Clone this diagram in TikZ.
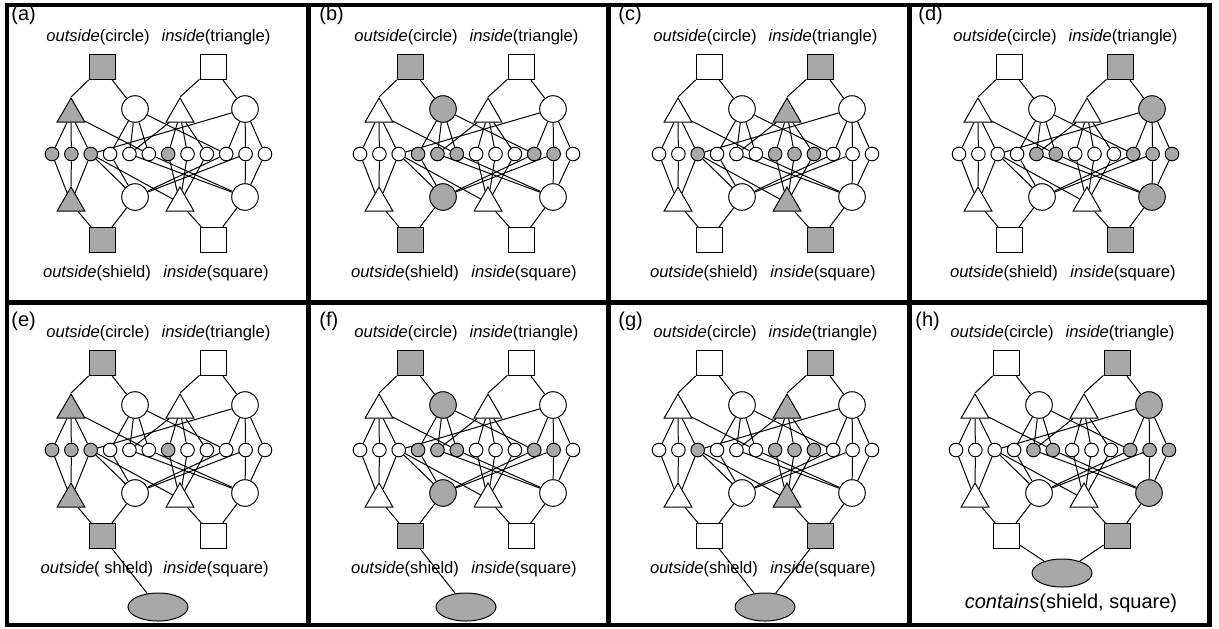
\documentclass[tikz,border=0pt]{standalone}
\usepackage{fontspec}
\setmainfont{Liberation Sans}
\usetikzlibrary{shapes.geometric,backgrounds}
\definecolor{gcol}{gray}{0.66}
\tikzset{
  x=0.5pt, y=-0.5pt,
  sq/.style={draw, line width=0.5pt, minimum width=13pt, minimum height=12.5pt, inner sep=0pt, fill=white},
  bc/.style={draw, line width=0.5pt, circle, minimum size=13.3pt, inner sep=0pt, fill=white},
  tri/.style={draw, line width=0.5pt, regular polygon, regular polygon sides=3, minimum size=16pt, inner sep=0pt, fill=white},
  sm/.style={draw, line width=0.5pt, circle, minimum size=6.8pt, inner sep=0pt, fill=white},
  ell/.style={draw, line width=0.5pt, ellipse, minimum width=30pt, minimum height=14pt, inner sep=0pt, fill=gcol},
  lbl/.style={font=\fontsize{8.3}{10}\selectfont, inner sep=0pt},
  plbl/.style={font=\fontsize{10}{12}\selectfont, inner sep=0pt, anchor=west},
  big/.style={font=\fontsize{10}{12}\selectfont, inner sep=0pt},
  edge/.style={line width=0.5pt},
  frame/.style={line width=2.2pt},
}
\newcommand\panelbody{%
  \node[sq,gS1/.try] (S1) at (102,67) {};
  \node[sq,gS2/.try] (S2) at (213,67) {};
  \node[tri,gT1/.try] (T1) at (71,114) {};
  \node[bc,gC1/.try] (C1) at (135,109) {};
  \node[tri,gT2/.try] (T2) at (180,114) {};
  \node[bc,gC2/.try] (C2) at (245,109) {};
  \foreach \i in {1,...,12} {
    \node[sm,gm\i/.try] (m\i) at ({52+19.36*(\i-1)},154) {};
  }
  \node[tri,gT3/.try] (T3) at (71,203) {};
  \node[bc,gC3/.try] (C3) at (135,197) {};
  \node[tri,gT4/.try] (T4) at (180,203) {};
  \node[bc,gC4/.try] (C4) at (245,197) {};
  \node[sq,gS3/.try] (S3) at (102,240) {};
  \node[sq,gS4/.try] (S4) at (213,240) {};
  \begin{pgfonlayer}{background}
    \draw[edge] (S1) -- (T1.corner 1);
    \draw[edge] (S1) -- (C1);
    \draw[edge] (S2) -- (T2.corner 1);
    \draw[edge] (S2) -- (C2);
    \draw[edge] (S3) -- (T3);
    \draw[edge] (S3) -- (C3);
    \draw[edge] (S4) -- (T4);
    \draw[edge] (S4) -- (C4);
    \foreach \j in {1,2,3,6} {\draw[edge] (T1) -- (m\j);}
    \foreach \j in {4,5,6,10} {\draw[edge] (C1) -- (m\j);}
    \foreach \j in {5,7,8,9} {\draw[edge] (T2) -- (m\j);}
    \foreach \j in {3,10,11,12} {\draw[edge] (C2) -- (m\j);}
    \foreach \j in {1,2,3} {\draw[edge] (m\j) -- (T3);}
    \foreach \j in {3,4,10,11} {\draw[edge] (m\j) -- (C3);}
    \foreach \j in {3,7,8,9} {\draw[edge] (m\j) -- (T4);}
    \foreach \j in {5,6,11,12} {\draw[edge] (m\j) -- (C4);}
  \end{pgfonlayer}
  \node[lbl] (L1) at (98,37) {\textit{outside}(circle)};
  \node[lbl] (L2) at (216,37) {\textit{inside}(triangle)};
}
\newcommand\botlabels[1]{%
  \node[lbl] (L3) at (97,273) {\textit{outside}(#1shield)};
  \node[lbl] (L4) at (216,273) {\textit{inside}(square)};
}
\begin{document}
\begin{tikzpicture}
\useasboundingbox (0,0) rectangle (1219,628);
% (a)
\begin{scope}[name prefix=a-, gS1/.style={fill=gcol}, gT1/.style={fill=gcol}, gT3/.style={fill=gcol}, gS3/.style={fill=gcol},
  gm1/.style={fill=gcol}, gm2/.style={fill=gcol}, gm3/.style={fill=gcol}, gm7/.style={fill=gcol}]
  \panelbody \botlabels{}
  \node[plbl] (P) at (11,15) {(a)};
\end{scope}
% (b)
\begin{scope}[shift={(308,0)}, name prefix=b-, gS1/.style={fill=gcol}, gC1/.style={fill=gcol}, gC3/.style={fill=gcol}, gS3/.style={fill=gcol},
  gm4/.style={fill=gcol}, gm5/.style={fill=gcol}, gm6/.style={fill=gcol}, gm10/.style={fill=gcol}, gm11/.style={fill=gcol}]
  \panelbody \botlabels{}
  \node[plbl] (P) at (11,15) {(b)};
\end{scope}
% (c)
\begin{scope}[shift={(607,0)}, name prefix=c-, gS2/.style={fill=gcol}, gT2/.style={fill=gcol}, gT4/.style={fill=gcol}, gS4/.style={fill=gcol},
  gm3/.style={fill=gcol}, gm7/.style={fill=gcol}, gm8/.style={fill=gcol}, gm9/.style={fill=gcol}]
  \panelbody \botlabels{}
  \node[plbl] (P) at (11,15) {(c)};
\end{scope}
% (d)
\begin{scope}[shift={(907,0)}, name prefix=d-, gS2/.style={fill=gcol}, gC2/.style={fill=gcol}, gC4/.style={fill=gcol}, gS4/.style={fill=gcol},
  gm5/.style={fill=gcol}, gm6/.style={fill=gcol}, gm10/.style={fill=gcol}, gm11/.style={fill=gcol}, gm12/.style={fill=gcol}]
  \panelbody \botlabels{}
  \node[plbl] (P) at (11,15) {(d)};
\end{scope}
% (e)
\begin{scope}[shift={(0,296)}, name prefix=e-, gS1/.style={fill=gcol}, gT1/.style={fill=gcol}, gT3/.style={fill=gcol}, gS3/.style={fill=gcol},
  gm1/.style={fill=gcol}, gm2/.style={fill=gcol}, gm3/.style={fill=gcol}, gm7/.style={fill=gcol}]
  \panelbody \botlabels{\ }
  \node[plbl] (P) at (11,25) {(e)};
  \node[ell] (E) at (158,311) {};
  \begin{pgfonlayer}{background}\draw[edge] (S3) -- (E);\end{pgfonlayer}
\end{scope}
% (f)
\begin{scope}[shift={(308,296)}, name prefix=f-, gS1/.style={fill=gcol}, gC1/.style={fill=gcol}, gC3/.style={fill=gcol}, gS3/.style={fill=gcol},
  gm4/.style={fill=gcol}, gm5/.style={fill=gcol}, gm6/.style={fill=gcol}, gm10/.style={fill=gcol}, gm11/.style={fill=gcol}]
  \panelbody \botlabels{}
  \node[plbl] (P) at (11,25) {(f)};
  \node[ell] (E) at (158,311) {};
  \begin{pgfonlayer}{background}\draw[edge] (S3) -- (E);\end{pgfonlayer}
\end{scope}
% (g)
\begin{scope}[shift={(607,296)}, name prefix=g-, gS2/.style={fill=gcol}, gT2/.style={fill=gcol}, gT4/.style={fill=gcol}, gS4/.style={fill=gcol},
  gm3/.style={fill=gcol}, gm7/.style={fill=gcol}, gm8/.style={fill=gcol}, gm9/.style={fill=gcol}]
  \panelbody \botlabels{}
  \node[plbl] (P) at (11,25) {(g)};
  \node[ell] (E) at (158,311) {};
  \begin{pgfonlayer}{background}\draw[edge] (S3) -- (E); \draw[edge] (S4) -- (E);\end{pgfonlayer}
\end{scope}
% (h)
\begin{scope}[shift={(904,296)}, name prefix=h-, gS2/.style={fill=gcol}, gC2/.style={fill=gcol}, gC4/.style={fill=gcol}, gS4/.style={fill=gcol},
  gm5/.style={fill=gcol}, gm6/.style={fill=gcol}, gm10/.style={fill=gcol}, gm11/.style={fill=gcol}, gm12/.style={fill=gcol}]
  \panelbody
  \node[plbl] (P) at (11,25) {(h)};
  \node[ell] (E) at (158,277) {};
  \node[big] (L5) at (167,307) {\textit{contains}(shield, square)};
  \begin{pgfonlayer}{background}\draw[edge] (S3) -- (E); \draw[edge] (S4) -- (E);\end{pgfonlayer}
\end{scope}
% frames
\draw[frame] (7,5) rectangle (1209.5,625);
\draw[frame] (308.5,5) -- (308.5,625);
\draw[frame] (608.5,5) -- (608.5,625);
\draw[frame] (909.5,5) -- (909.5,625);
\draw[frame, line width=2.8pt] (7,302.5) -- (1209.5,302.5);
\end{tikzpicture}
\end{document}
